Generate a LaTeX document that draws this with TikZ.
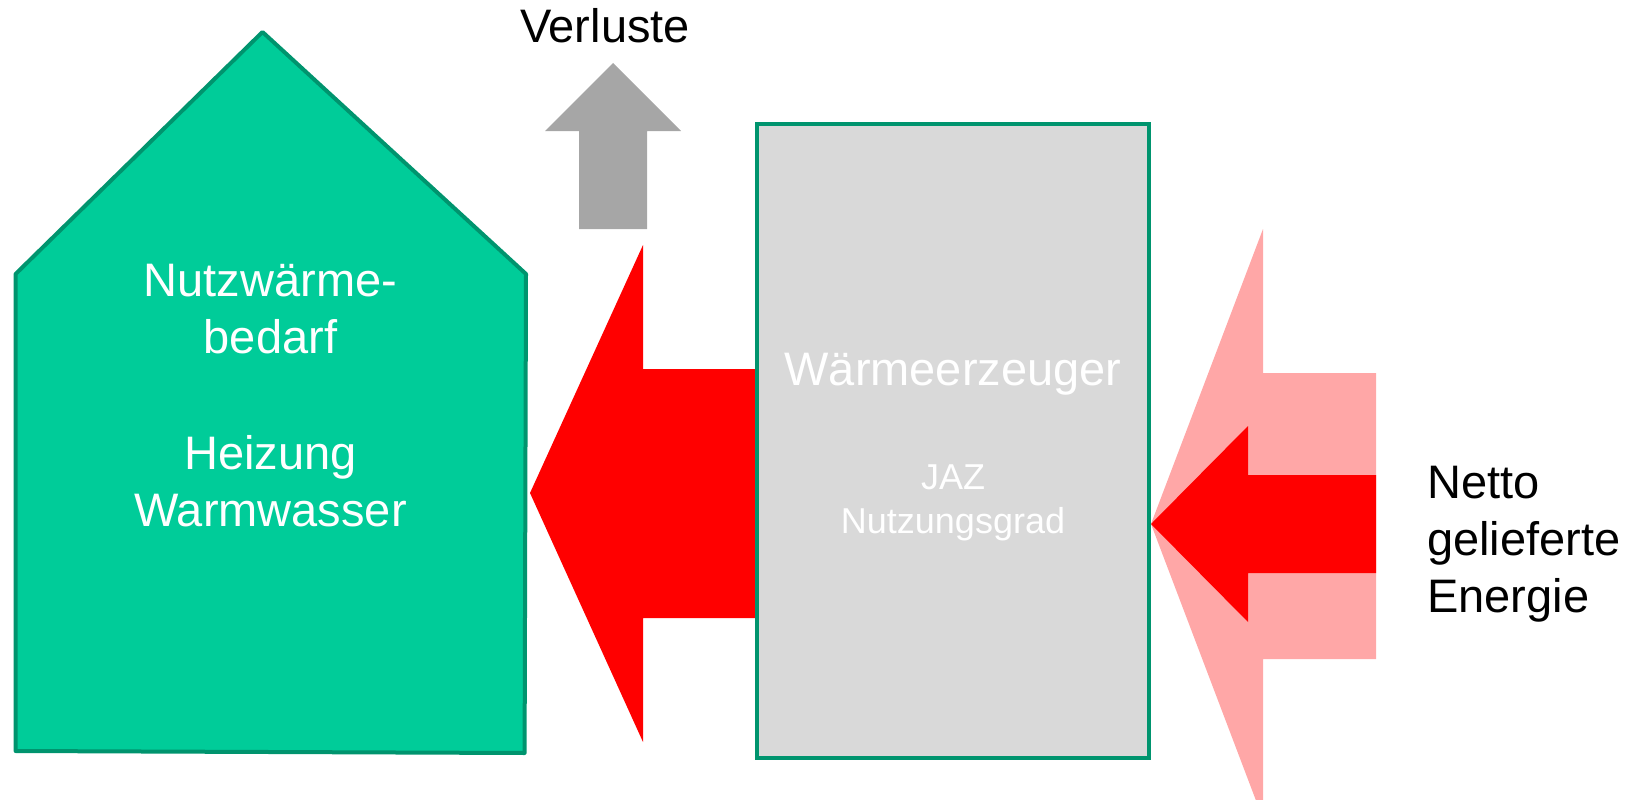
\documentclass[tikz,border=0pt]{standalone}
\usepackage{fontspec}
\setmainfont{Liberation Sans}
\definecolor{housefill}{RGB}{0,204,153}
\definecolor{edgegreen}{RGB}{0,148,110}
\definecolor{boxfill}{RGB}{217,217,217}
\definecolor{lossgray}{RGB}{166,166,166}
\definecolor{pinkflow}{RGB}{255,167,167}
\tikzset{
  housestyle/.style={fill=housefill, draw=edgegreen, line width=4pt, line join=round},
  genbox/.style={rectangle, fill=boxfill, draw=edgegreen, line width=4pt, inner sep=0pt},
  bigtext/.style={font=\fontsize{47}{57}\selectfont, inner sep=0pt},
  smalltext/.style={font=\fontsize{36}{44}\selectfont, inner sep=0pt, text=white}
}
\begin{document}
\begin{tikzpicture}[x=1pt,y=-1pt]
\useasboundingbox (0,0) rectangle (1634,800);
% house
\draw[housestyle] (15.6,274) -- (262.5,32) -- (526,274) -- (524.6,753) -- (15.6,751) -- cycle;
% loss arrow
\fill[lossgray] (613,63) -- (681,131) -- (647,131) -- (647,229) -- (579,229) -- (579,131) -- (545,131) -- cycle;
% red output arrow
\fill[red] (530,493) -- (643,245) -- (643,369) -- (760,369) -- (760,618) -- (643,618) -- (643,742) -- cycle;
% generator box
\node[genbox, minimum width=392pt, minimum height=634pt] (gen) at (953,441) {};
% pink input arrow
\begin{scope}
\clip (0,0) rectangle (1634,800);
\fill[pinkflow] (1151,524) -- (1263,229) -- (1263,373) -- (1376,373) -- (1376,659) -- (1263,659) -- (1263,819) -- cycle;
\end{scope}
% red inner input arrow
\fill[red] (1151,524) -- (1248,426) -- (1248,475) -- (1376,475) -- (1376,573) -- (1248,573) -- (1248,622) -- cycle;
% texts
\node[bigtext, anchor=base] (verl) at (605,43) {Verluste};
\node[bigtext, anchor=base, text=white, align=center] (nutz) at (270.5,353) {Nutzwärme-\\bedarf};
\node[bigtext, anchor=base, text=white, align=center] (heiz) at (270.5,526) {Heizung\\Warmwasser};
\node[bigtext, anchor=base, text=white] (gentitle) at (953,385) {Wärmeerzeuger};
\node[smalltext, anchor=base, align=center] (jaz) at (953,533) {JAZ\\Nutzungsgrad};
\node[bigtext, anchor=base west, align=left] (netto) at (1427,612) {Netto\\gelieferte\\Energie};
\end{tikzpicture}
\end{document}
